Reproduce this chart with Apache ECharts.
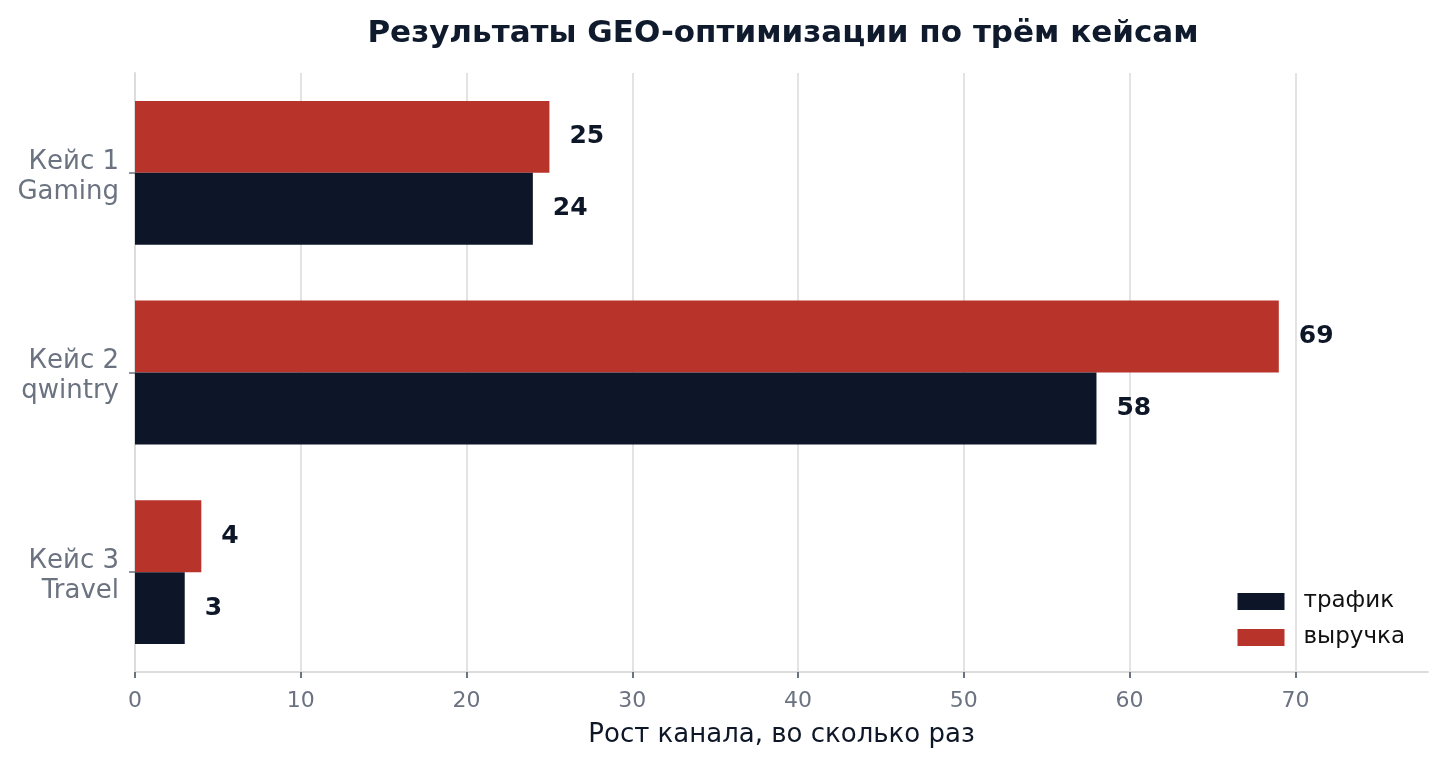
<!DOCTYPE html>
<html>
<head>
<meta charset="utf-8">
<script src="https://cdn.jsdelivr.net/npm/echarts@6/dist/echarts.min.js"></script>
<style>html,body{margin:0;padding:0;background:#fff}#c{width:1445px;height:765px}</style>
</head>
<body>
<div id="c"></div>
<script>
// bottom-to-top category order (first category is drawn at the bottom)
const categories = ['Кейс 3\nTravel', 'Кейс 2\nqwintry', 'Кейс 1\nGaming'];
const traffic = [3, 58, 24];
const revenue = [4, 69, 25];
const seriesNames = ['трафик', 'выручка'];
const xTicks = [0, 10, 20, 30, 40, 50, 60, 70];

const FONT = '"DejaVu Sans", sans-serif';
const chart = echarts.init(document.getElementById('c'), null, {renderer: 'canvas'});
const labelStyle = {
  show: true, position: 'right', distance: 20,
  fontFamily: FONT, fontSize: 25, fontWeight: 'bold', color: '#0d1727'
};
chart.setOption({
  animation: false,
  backgroundColor: '#fff',
  title: {
    text: 'Результаты GEO-оптимизации по трём кейсам',
    left: 778, top: 13, textAlign: 'center',
    textStyle: {fontFamily: FONT, fontSize: 31, fontWeight: 'bold', color: '#0f1b2d'}
  },
  grid: {left: 135, right: 17, top: 73, bottom: 93, containLabel: false},
  legend: {
    data: seriesNames, orient: 'vertical', right: 35, bottom: 111,
    itemWidth: 47, itemHeight: 17, itemGap: 13, icon: 'rect',
    textStyle: {fontFamily: FONT, fontSize: 23, color: '#111', padding: [0, 0, 0, 14]}
  },
  xAxis: {
    type: 'value', min: 0, max: 78, interval: 10,
    name: 'Рост канала, во сколько раз', nameLocation: 'middle', nameGap: 50,
    nameTextStyle: {fontFamily: FONT, fontSize: 26, color: '#0d1727'},
    axisLine: {show: true, lineStyle: {color: '#dcdcdc', width: 2}},
    axisTick: {show: true, length: 6, lineStyle: {color: '#6b7280', width: 2}, customValues: xTicks},
    axisLabel: {fontFamily: FONT, fontSize: 22, color: '#6b7280', margin: 18, customValues: xTicks},
    splitLine: {show: true, lineStyle: {color: '#e3e3e3', width: 2}}
  },
  yAxis: {
    type: 'category', data: categories,
    axisLine: {show: true, lineStyle: {color: '#dcdcdc', width: 2}},
    axisTick: {show: true, alignWithLabel: true, length: 6, lineStyle: {color: '#6b7280', width: 1.5}},
    axisLabel: {
      margin: 16, align: 'right',
      formatter: v => '{s|}\n' + v.split('\n').map(t => '{a|' + t + '}').join('\n'),
      rich: {
        s: {fontSize: 8, lineHeight: 8},
        a: {fontFamily: FONT, fontSize: 26, color: '#6b7280', lineHeight: 30, align: 'right'}
      }
    }
  },
  series: [
    {name: seriesNames[1], type: 'bar', data: revenue, barGap: '0%', barCategoryGap: '28%',
     itemStyle: {color: '#b8332a'}, label: labelStyle},
    {name: seriesNames[0], type: 'bar', data: traffic, barGap: '0%', barCategoryGap: '28%',
     itemStyle: {color: '#0c1628'}, label: labelStyle}
  ]
});
</script>
</body>
</html>
